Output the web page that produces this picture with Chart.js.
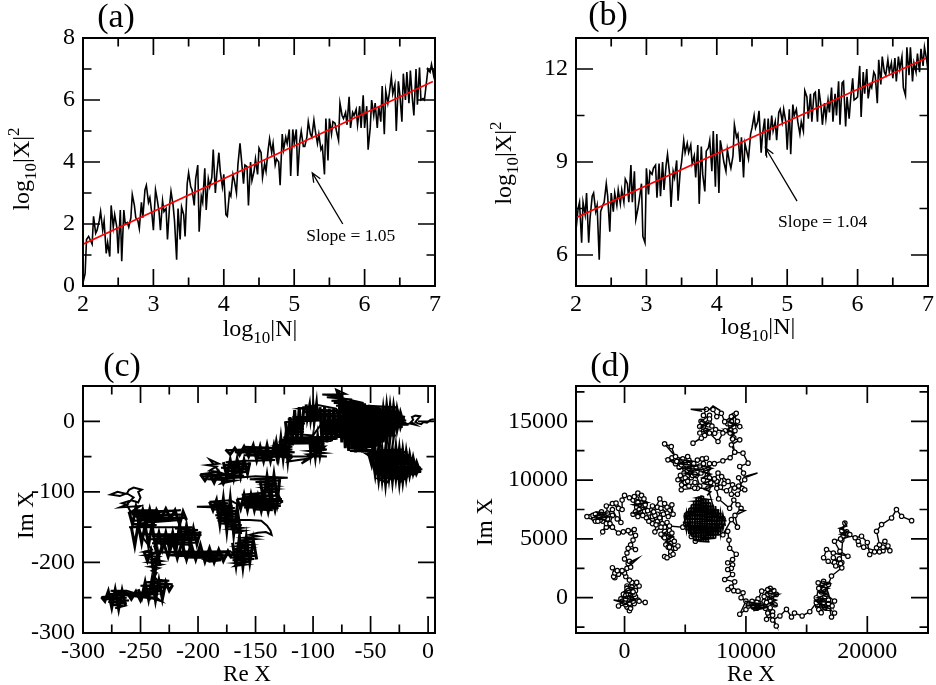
<!DOCTYPE html>
<html><head><meta charset="utf-8">
<style>html,body{margin:0;padding:0;background:#fff}canvas{position:absolute}</style>
<script src="https://cdn.jsdelivr.net/npm/chart.js@4"></script>
</head><body>
<canvas id="pa" width="468" height="345" style="left:0;top:0"></canvas>
<canvas id="pb" width="468" height="345" style="left:468px;top:0"></canvas>
<canvas id="pc" width="468" height="340" style="left:0;top:345px"></canvas>
<canvas id="pd" width="468" height="340" style="left:468px;top:345px"></canvas>
<script>
// ---- panels (a) and (b): shared log10 N samples
const logN=[2.00,2.03,2.05,2.08,2.10,2.13,2.15,2.18,2.20,2.23,2.25,2.28,2.30,2.33,2.35,2.38,2.40,2.43,2.45,2.48,
2.50,2.53,2.55,2.58,2.60,2.63,2.65,2.68,2.70,2.73,2.75,2.78,2.80,2.83,2.85,2.88,2.90,2.93,2.95,2.98,
3.00,3.03,3.05,3.08,3.10,3.13,3.15,3.18,3.20,3.23,3.25,3.28,3.30,3.33,3.35,3.38,3.40,3.43,3.45,3.48,
3.50,3.53,3.55,3.58,3.60,3.63,3.65,3.68,3.70,3.73,3.75,3.78,3.80,3.83,3.85,3.88,3.90,3.93,3.95,3.98,
4.00,4.03,4.05,4.08,4.10,4.13,4.15,4.18,4.20,4.23,4.25,4.28,4.30,4.33,4.35,4.38,4.40,4.43,4.45,4.48,
4.50,4.53,4.55,4.58,4.60,4.63,4.65,4.68,4.70,4.73,4.75,4.78,4.80,4.83,4.85,4.88,4.90,4.93,4.95,4.98,
5.00,5.03,5.05,5.08,5.10,5.13,5.15,5.18,5.20,5.23,5.25,5.28,5.30,5.33,5.35,5.38,5.40,5.43,5.45,5.48,
5.50,5.53,5.55,5.58,5.60,5.63,5.65,5.68,5.70,5.73,5.75,5.78,5.80,5.83,5.85,5.88,5.90,5.93,5.95,5.98,
6.00,6.03,6.05,6.08,6.10,6.13,6.15,6.18,6.20,6.23,6.25,6.28,6.30,6.33,6.35,6.38,6.40,6.43,6.45,6.48,
6.50,6.53,6.55,6.58,6.60,6.63,6.65,6.68,6.70,6.73,6.75,6.78,6.80,6.83,6.85,6.88,6.90,6.93,6.95,6.98,7.00];
const aY=[0.1,0.4,1.5,1.6,1.5,1.35,2.25,1.7,1.8,2.1,
2.4,1.8,2.1,1.05,1.4,0.95,2.6,1.9,2.3,1.9,
1.05,2.45,0.8,2.45,2.0,2.05,1.9,2.2,2.95,2.6,
2.2,2.1,1.85,2.7,2.2,3.1,3.25,2.7,2.85,2.3,
1.8,3.1,2.85,2.4,1.8,2.75,2.4,2.5,1.5,2.6,
3.05,2.6,2.1,0.85,2.5,1.5,2.55,2.3,1.6,3.3,
3.65,3.2,3.1,2.6,3.45,3.9,1.75,2.9,2.7,3.8,
2.45,3.45,3.2,3.5,4.4,3.0,3.6,4.3,3.7,3.2,
3.6,2.3,2.25,3.0,2.9,3.6,3.4,3.0,3.9,4.6,
4.1,3.3,3.9,3.85,2.6,4.0,3.4,3.7,4.1,3.6,
4.45,4.3,3.5,3.95,3.7,4.4,4.75,4.3,4.6,3.9,
4.1,4.0,3.25,4.9,4.4,4.8,4.6,5.05,3.55,5.05,
4.6,5.05,3.55,4.7,5.0,4.5,4.5,4.8,5.3,4.9,
4.8,5.35,5.0,4.6,4.9,4.4,4.5,3.6,5.4,4.05,
5.4,4.9,5.3,5.25,5.0,4.7,5.9,5.5,5.4,5.6,
5.2,6.1,5.1,5.6,5.5,5.7,5.2,5.8,5.1,6.15,
5.1,5.8,4.4,5.1,6.0,5.5,5.9,5.1,5.8,5.3,
6.45,4.9,6.3,5.9,6.2,6.75,6.2,6.5,5.0,6.6,
6.2,5.3,6.85,6.0,6.9,5.9,6.95,6.0,5.5,7.0,
5.85,7.05,6.0,6.05,6.0,6.6,7.0,6.9,7.15,6.8,7.1];
const bY=[6.8,7.5,7.7,6.4,7.7,7.3,8.0,6.4,7.2,7.9,
8.0,7.4,7.6,5.85,7.4,7.6,7.7,8.3,7.9,6.75,
8.0,7.4,8.0,7.6,8.1,7.65,8.1,7.7,8.45,8.3,
7.7,8.9,7.7,8.7,7.15,7.5,7.8,8.3,6.6,6.4,
8.8,7.95,8.7,8.6,8.8,8.9,7.85,8.95,7.9,9.0,
8.1,8.9,9.25,8.6,7.55,8.7,8.5,9.05,7.75,8.7,
9.0,9.7,9.3,9.6,9.3,9.55,8.95,9.2,8.5,9.55,
7.65,9.5,8.6,8.05,9.35,9.45,9.7,8.7,10.0,8.2,
9.9,8.0,9.7,9.3,9.0,8.7,9.4,9.0,8.8,9.2,
10.2,9.8,9.9,9.0,9.8,8.5,9.6,9.3,9.1,9.9,
10.1,10.5,10.1,10.3,10.65,9.3,9.9,10.4,9.2,10.4,
9.7,10.5,10.0,10.3,9.7,10.6,10.7,10.3,10.7,10.3,
9.4,10.7,9.25,10.85,10.5,10.7,10.3,9.9,10.3,10.0,
11.3,11.1,10.4,11.2,10.3,11.2,11.25,10.3,11.35,10.8,
10.2,10.9,10.4,11.0,10.6,11.4,10.3,11.2,10.5,11.6,
10.2,11.55,11.6,10.15,11.1,10.4,11.0,11.7,11.0,11.05,
11.1,12.1,10.45,11.9,11.2,12.0,11.05,11.5,11.4,11.9,
11.8,10.9,12.3,11.5,12.4,11.9,11.8,12.3,11.9,12.2,
11.7,12.35,11.6,12.4,12.0,12.4,11.4,11.15,12.7,11.8,
12.7,11.6,12.2,11.9,12.5,11.9,12.65,12.1,12.7,12.3,11.95];
const fitX=[2,6.97];
const aFit=[1.35,6.6];
const bFit=[7.2,12.35];
const aArrowX=[5.69,5.257], aArrowY=[2.0,3.65];
const bArrowX=[5.14,4.69], bArrowY=[7.74,9.46];

// ---- panel (c): walk, flat Re,Im pairs, leg by leg
const cTail=[5,3,2,2,-1,-2,-4,-1,-6,-4,-9,-3,-11,-1,-9,3,-7,7,-11,8,-14,6,-13,2,-16,-3,-11,-5,-14,-2,-18,-4,-21,-1];
const cMain=[-28,20,-52,22,-30,19,-70,24,-56,26,-84,29,-66,31,-88,34,-76,36,-92,38,-72,39,-80,45,-78,34,-62,28,-82,26,-54,24,-80,22,-42,19,-78,19,-34,17,-76,16,-27,14,-80,14,-26,12,-74,11,-24,9,-78,8,-22,6,-76,5,-20,3,-80,3,-19,1,-82,0,-21,-2,-76,-3,-17,-5,-78,-6,-22,-8,-80,-9,-26,-11,-76,-12,-30,-14,-82,-15,-34,-17,-74,-18,-28,-20,-72,-21,-36,-23,-74,-24,-38,-26,-71,-27,-40,-29,-70,-31,-44,-33,-73,-34,-46,-36,-70,-38,-48,-41,-68,-42,-45,-43];
const cLow=[-21,-40,-42,-41,-18,-44,-53,-46,-16,-48,-50,-50,-14,-52,-48,-54,-13,-56,-49,-58,-10,-60,-46,-62,-8,-64,-47,-66,-5,-68,-44,-70,-6,-72,-46,-74,-10,-75,-42,-77,-18,-79,-44,-81,-36,-87,-32,-80,-25,-82,-19,-80,-24,-86,-28,-78,-50,-50,-70,-30];
const cMid=[-76,8,-78,14,-80,18,-96,23,-112,18,-80,15,-108,13,-76,11,-104,9,-75,7,-118,6,-90,4,-122,3,-94,1,-124,-1,-107,-3,-122,-5,-108,-7,-123,-9,-108,-11,-122,-13,-108,-15,-124,-17,-100,-20,-92,-2,-75,-4,-93,-6,-72,-8,-92,-10,-76,-12,-94,-14,-74,-16,-92,-18,-72,-20,-74,-22,-126,-23,-80,-25,-128,-26,-84,-28,-130,-29,-90,-31,-124,-32,-131,-34,-118,-36,-133,-38,-118,-40,-130,-42,-116,-44,-135,-46,-118,-48,-130,-50,-119,-52,-122,-57,-105,-53,-110,-60,-100,-50,-105,-47,-90,-45,-104,-42,-88,-40,-103,-38,-90,-36,-100,-48,-88,-50];
const cBand=[-122,-50,-160,-36,-130,-38,-176,-41,-128,-42,-168,-44,-126,-46,-160,-48,-130,-50,-150,-52,-133,-55,-150,-56];
const cBall=[-158,-56,-176,-58,-154,-60,-178,-62,-155,-64,-180,-66,-156,-68,-176,-70,-158,-72,-178,-75,-160,-77,-170,-79,-182,-72,-190,-70,-184,-64,-192,-62,-182,-60,-190,-54,-184,-66,-182,-72,-198,-75,-176,-76,-196,-78,-172,-80,-192,-82,-168,-84,-180,-88,-175,-81,-150,-78];
const cKnot=[-122,-80,-155,-82,-128,-84,-150,-86,-131,-88,-142,-90,-132,-92,-143,-94,-132,-96,-145,-98,-130,-100,-148,-102,-162,-104,-130,-105,-160,-107,-133,-106,-166,-110,-127,-110,-160,-113,-126,-113,-163,-116,-128,-117,-158,-119,-128,-120,-160,-122,-130,-123,-150,-125,-135,-126];
const cFork=[-165,-118,-172,-112,-190,-114,-174,-116,-188,-118,-170,-120,-201,-121,-168,-123,-186,-125,-166,-127,-184,-129,-165,-131,-185,-133,-168,-135,-184,-137,-165,-139,-183,-141,-163,-143,-180,-145,-162,-147,-176,-149,-162,-151,-172,-153,-160,-155,-170,-158,-163,-158,-170,-140];
const cRing=[-155,-140,-145,-141,-140,-148,-137,-155,-136,-161,-141,-157,-148,-158,-155,-161,-148,-163,-160,-165,-150,-167,-165,-169,-152,-171,-168,-173,-155,-175,-166,-177,-156,-179,-170,-181,-158,-183,-170,-185,-150,-187,-172,-189,-150,-191,-172,-193,-151,-195,-170,-197,-155,-199,-168,-201,-158,-203,-168,-205,-162,-199];
const cBelt=[-172,-184,-210,-185,-175,-186,-214,-187,-178,-188,-216,-189,-172,-190,-218,-191,-175,-192,-212,-193,-178,-194,-192,-196,-180,-197,-190,-199,-200,-192,-226,-190,-208,-186,-238,-186,-205,-184];
const cLobe=[-208,-175,-240,-173,-202,-172,-238,-170,-200,-168,-243,-167,-200,-165,-240,-163,-197,-161,-250,-160,-222,-160,-198,-158,-218,-156,-200,-154,-220,-152,-205,-150,-236,-150,-260,-150,-236,-147,-258,-146,-240,-143,-215,-140,-258,-141,-237,-139,-250,-138,-210,-137,-256,-135,-212,-132,-258,-132,-215,-126,-260,-129,-236,-126,-256,-126,-250,-120,-268,-122,-262,-118];
const cCurl=[-266,-116,-258,-112,-252,-115,-250,-108,-252,-100,-249,-97,-256,-94,-260,-97,-262,-103,-270,-100,-276,-104,-268,-106,-262,-102,-256,-108,-262,-118,-258,-130,-250,-140,-252,-150,-248,-165,-240,-182];
const cNeck=[-247,-185,-235,-187,-246,-190,-234,-192,-240,-196,-232,-198,-243,-200,-232,-203,-242,-206,-234,-208,-240,-212,-236,-215,-238,-220,-236,-224];
const cFoot=[-240,-224,-225,-226,-246,-228,-222,-231,-250,-233,-226,-235,-248,-238,-230,-240,-252,-243,-238,-245,-252,-248,-236,-250,-232,-255,-248,-247,-240,-243,-262,-244,-245,-247,-264,-246,-240,-251];
const cEnd=[-262,-240,-276,-240,-262,-243,-280,-245,-262,-246,-284,-249,-262,-250,-282,-252,-260,-254,-278,-256,-262,-258,-276,-260,-265,-262,-272,-265,-268,-262];
// overlapping excursions of the walk that turn those clusters black
const cFillMain1=[-78,44,-75,-30,-72,30,-69,-42,-66,30,-63,-44,-60,27,-57,-44,-54,23,-51,-38,-48,18,-45,-36,-42,19,-39,-30,-36,21,-33,-22,-30,21,-27,-12,-24,12,-21,-5];
const cFillMain2=[-78,-15,-75,40,-72,-38,-69,28,-66,-40,-63,28,-60,-42,-57,24,-54,-40,-51,21,-48,-42,-45,17,-42,-32,-39,16,-36,-28,-33,20,-30,-20,-27,17,-24,-8,-21,8];
const cFillLow1=[-52,-44,-49,-62,-46,-40,-43,-82,-40,-40,-37,-88,-34,-39,-31,-84,-28,-38,-25,-86,-22,-42,-19,-80,-16,-48,-13,-74,-10,-58,-7,-72];
const cFillLow2=[-52,-50,-49,-42,-46,-75,-43,-38,-40,-82,-37,-40,-34,-80,-31,-40,-28,-80,-25,-40,-22,-84,-19,-44,-16,-76,-13,-52,-10,-74,-7,-64];
const cFillMidL=[-124,0,-122,-30,-120,6,-118,-34,-116,16,-114,-30,-112,20,-110,-25,-108,21];
const cFillMidT=[-106,24,-105,5,-103,22,-102,3,-100,22,-99,0,-97,24,-96,2];
const cFillMidR=[-94,20,-92,-35,-90,20,-88,-30,-86,18,-84,-28,-82,18,-80,-26,-78,16,-76,-22];
const cFillMidB=[-103,-22,-102,-45,-100,-24,-98,-50,-96,-22,-94,-48,-92,-30,-90,-42];
const cFillMidW=[-134,-48,-132,-30,-130,-50,-128,-24,-126,-52,-124,-24,-122,-55,-120,-24];
const cFillBand=[-176,-40,-172,-47,-168,-38,-164,-48,-160,-36,-156,-50,-152,-34,-149,-55,-146,-36,-143,-56,-140,-34,-137,-56,-134,-34,-131,-55,-128,-38,-125,-52];
const cFillBall=[-178,-58,-175,-78,-172,-55,-169,-80,-166,-54,-163,-78,-160,-55,-157,-74,-155,-58];
const cFillLeft=[-198,-75,-194,-84,-190,-74,-186,-87,-182,-72,-178,-88,-174,-74];
const cFillKnotA=[-146,-84,-143,-112,-140,-78,-137,-112,-134,-76,-131,-112,-129,-82];
const cFillKnotB=[-166,-110,-163,-124,-160,-104,-157,-126,-154,-104,-151,-126,-148,-106,-145,-127,-142,-106,-139,-128,-136,-106,-133,-126,-130,-106,-127,-116];
const cFillFork=[-190,-114,-187,-126,-184,-112,-181,-146,-178,-110,-175,-155,-172,-110,-169,-160,-166,-122,-163,-160];
const cFillRing=[-170,-172,-167,-204,-164,-164,-161,-206,-158,-165,-155,-200,-152,-168,-149,-196];
const cFillBelt=[-238,-176,-234,-190,-230,-172,-226,-192,-222,-170,-218,-194,-214,-172,-210,-196,-206,-174,-202,-196,-198,-175,-194,-199,-190,-180,-186,-200,-182,-182,-178,-198,-174,-184,-171,-194];
const cFillLobe=[-258,-150,-255,-176,-252,-146,-249,-172,-246,-147,-243,-176,-240,-146,-237,-178,-234,-158,-231,-180,-228,-158,-225,-180,-222,-158,-219,-182,-216,-146,-213,-178,-210,-148,-207,-176,-204,-152,-201,-174,-198,-156];
const cFillTop=[-260,-128,-257,-146,-254,-122,-251,-147,-248,-126,-245,-146,-242,-125,-239,-146,-236,-126,-232,-138,-228,-124,-224,-138,-220,-126,-216,-146,-213,-128,-210,-140];
const cFillFoot=[-252,-238,-249,-250,-246,-228,-243,-252,-240,-224,-237,-254,-234,-226,-231,-252,-228,-228,-225,-240,-222,-232];
const cFillBar=[-262,-242,-258,-252,-254,-241,-250,-254,-246,-240,-242,-254];
const cFillEnd=[-284,-249,-281,-255,-278,-241,-275,-264,-272,-239,-269,-266,-266,-240,-263,-262];
const cFillNeck=[-247,-184,-244,-198,-241,-184,-238,-222,-235,-186,-233,-205];

// ---- panel (d): walk legs carrying open circles, flat Re,Im pairs
const dOrigin=[1700,-400,1200,-300,900,100,600,-200,400,-1100,100,-600,-500,-700,-200,-300,100,200,500,700,300,-100,800,-500,500,-900,0,-400,300,300,700,1100,1200,1000,900,600,600,1300,200,800,500,300,100,-100,800,300,400,-500,700,-300,300,600,600,900,1000,1300,700,500,400,1500];
const dClimb=[100,1800,0,2100,-500,2000,-800,1700,-900,1800,-800,2100,-1000,2550,-600,2300,-200,2300,200,2500,500,2600,300,2900,400,3100,0,3300,200,3800,300,4200,900,4100,500,4500,700,4900,900,5300,500,5500,800,5800,300,5700,-100,5600,-500,5500];
const dWest=[-1000,6000,-1500,6000,-1800,5600,-1500,6300,-2000,6600,-2400,6500,-3100,6900,-2600,7000,-2200,6500,-2400,7100,-1900,7300,-1700,6800,-1200,6300,-1000,7000,-1400,7200,-1500,7800,-700,8050,-200,7500,-200,8300,0,8700,400,8500,800,8600,1100,8900,1400,8700,1600,8400,1100,8100,1700,7900,1200,7500,900,7300,1500,7000,1900,7400,2300,7800,2300,6900,2000,6500,2500,7000,2400,7300,2900,8400,3300,8000,3000,7600,3500,7200,3900,7900,4000,7100,3600,6900,3200,7100,2900,6800];
const dBowl=[2600,6200,2500,5600,3000,6000,3500,6400,3000,5400,3700,5700,3300,5100,3900,5000,3600,4300,4400,4400,3800,3900,3500,3400,4000,3700,3700,4300,4100,4800,3900,5500,3700,6100,4800,6000,5100,7050,5500,5200,5830,4800,6740,5150,7700,6350,6875,9320];
const dUpper=[6000,9300,5775,9320,4675,9180,5000,9800,4400,10030,5200,9900,5600,10400,4900,10600,4675,11300,5300,11000,5800,10500,3575,11720,4300,11600,3850,12850,3300,13080,4200,12000,4800,11800,5200,12000,5700,11400,6000,11700,6400,11800,6740,11860,6200,11200,6700,10800,7000,10200,6500,10000,7000,11400,7400,11400,8100,11640,8700,11900,9075,12370];
const dNorth=[8800,13000,9490,13420,8900,13500,9100,14200,8700,14800,9490,14550,8800,15000,9200,15680,8800,15400,8250,14970,7975,15680,7600,15400,7290,16000,6740,16020,6500,15500,7000,15200,6190,14550,6700,14200,6400,14900,6900,14000,7425,13980,6600,13800,5640,13140,6325,13560,7000,14000,7700,13280,8100,14000,8700,14300,9075,12370];
const dReturn=[9760,12290,10175,11440,9490,11160,9800,10600,9900,10030,9400,9500,9900,9180,9075,9320,8525,9890,7700,10600,7400,10100,7750,8400,8660,7600,9000,8300,9350,7900,9600,7600,9100,7000,9300,6000,8800,6640,8100,5350];
const dEast=[8500,5650,8600,4900,8660,4200,9200,3700,8900,3250,8500,2970,8900,2800,8800,2500,8500,2400,8900,1980,8250,1550,9075,1350,8800,900,8525,700,9000,600,9350,560,9760,420,9600,0,10000,-280,9490,-1400,10000,-1000,10500,-500,10200,-700,10900,-900,10500,-300,11000,-100,11300,-700,10900,-400,11300,560,11800,700,11500,100,12000,400,12500,280,12000,-300,12400,-600,11700,-400,12000,-850,11800,-1300,11700,-1840,12200,-1500,12500,-2400,12200,-1900,12800,-1550,13340,-990,13750,-1640,14000,-1300,14630,-1550,15260,-1190,15800,-420,16000,-1000,16200,-1270,16500,-800,16100,-300,16500,100,16800,-500,17050,-1640,17300,-1300,16800,-900,17300,-280,16600,300,16400,700,15950,1270,16400,1400,16800,1130,17050,1840,17900,2540,17400,2700,16775,3100,16400,3400,16640,4100,17200,3800,18400,3530,17740,3950,17300,4800,17800,5000,18150,6350,17900,5700,18560,5370,19250,4800,19000,5100,19525,5230,20000,4700,20200,3670,20760,4240,21300,4300,21860,4000,21450,4800,21000,4500,20760,5650,21175,6215,22000,6780,22400,7490,22825,6920,23650,6550];
// further circled excursions inside the crowded clusters
const dExtraWest=[-2800,6900,-2500,6700,-2100,7000,-1800,6500,-1400,6700,-1100,6100,-1600,6900,-1000,7500,-600,6700,-300,6400,-500,7600,-1000,8000];
const dExtraRidge=[700,8300,1000,7700,700,7100,1100,6900,1500,7700,1000,8400,1300,7300,1700,8000,2000,7200,1800,6800,2300,6700,2700,7100,2700,6500,2300,6300,3100,6300,3100,7300,2700,7700,3500,7700,3700,7400];
const dExtraBowl=[3300,6000,3700,5400,3200,5200,3700,4900,3400,4500,3800,4600,4200,4200,3800,3600,3300,3500];
const dExtraUpper=[3900,11900,4200,11400,4700,11700,4500,11100,5000,11500,5300,11700,5600,11000,5100,10700,5500,10200,5000,10200,4600,10400,4700,9600,5300,9500,5800,9800,6200,9500,5900,10400,6300,10600,5900,11100,6500,11400,6900,11000,7100,9800,7600,9900,7900,9400,8200,9700,8000,10300,7600,9300,8400,9100,8900,9600,8800,8800,9300,8800,9700,9300,9400,10200];
const dExtraTop=[6200,14000,6500,14500,6900,14700,6300,15000,7000,15500,7200,14600,7500,14300,8800,14000,8500,14800,9000,14500,9300,15000,9000,15500,8700,14000,8300,14200,9000,13600];
const dExtraBottom=[10200,-500,10600,-800,11000,-400,11500,-300,11900,-600,12100,-200,11800,300,12300,600,12000,800,11600,-900,11900,-1500,12200,-1200];
const dExtraPillar=[16200,500,16500,700,16300,1100,16000,800,15800,0,16400,-400,16600,-900,16200,-800,15900,-700,16800,-200,17100,-700,16600,1000];
const dExtraRise=[17300,3000,17700,3300,17900,3000,17200,3400,17800,2900,18000,5200,18300,5600,17900,4900];
const dExtraPlate=[20600,3900,21300,4000,21700,4400,21000,3900,19700,4300,19300,4500];
const dExtraOrigin=[200,-800,-300,-100,200,1000,500,1000,900,900,100,400,-100,300,800,-100,1100,-200];
// dense stretches of the walk in (d), where the circles merge into black
const dCore=[6500,8650,5900,8500,6900,8350,5700,8200,7100,8050,5500,7900,7400,7750,5300,7600,7800,7450,5100,7300,8000,7150,5000,7000,8300,6850,4900,6700,8400,6550,4800,6400,8300,6250,4850,6100,8200,5950,5000,5800,8000,5650,5300,5500,7900,5350,5500,5200,7500,5050,5700,4900,7000,4750,6000,4800];
const dCoreA=[4900,6300,5100,7300,5300,5400,5500,7900,5700,4900,5900,8500,6100,4800,6300,8700,6500,4750,6700,8400,6900,4800,7100,8100,7300,5000,7500,7800,7700,5300,7900,7300,8100,5800,8300,6800];
const dCoreB=[4900,7000,5100,5700,5300,7600,5500,5200,5700,8200,5900,4800,6100,8600,6300,4800,6500,8650,6700,4800,6900,8350,7100,5000,7300,7900,7500,5050,7700,7500,7900,5400,8100,7100,8300,6100];
const dDark1=[6300,11200,7200,11000,6400,10700,7100,10500,6400,10200,7200,10000,6500,9700,7300,9500,6600,9200,7100,9000,6800,8700];
const dDark2=[16300,1400,16900,1200,16100,1000,16800,800,16000,500,16700,300,15900,0,16500,-100,16000,-300,16300,-800];
const dDark3=[9900,-300,11000,-500,10000,-700,11600,-600,10400,-900,11800,-800,10600,-1100];
const dDark4=[11800,800,12200,700,11700,400,12700,300,11900,0,12500,-200,11900,-500,12600,-700];
const dDark5=[18100,6500,18300,6100,17700,5900,18400,5600,17800,5400,18500,5200,17900,5000];
const dDark6=[9200,15500,8600,15000,9100,14700,8500,14300,9000,14000,8700,13500];
const dDark7=[6300,15000,6900,14800,6300,14500,7000,14300,6400,14100];
const dDark8=[-2400,7300,-1500,7200,-2300,7000,-1300,6900,-2200,6700,-1500,6600];
const dDark9=[100,1000,800,800,0,500,700,300,-100,0,800,-200,100,-500,600,-800];
const dDark10=[4200,11800,5600,11600,4400,11400,6000,11200,4800,11000,6300,10900,5000,10600,6200,10400];
const dDark11=[900,8400,1900,8100,700,7900,1800,7600,800,7200,1600,7200];
const dDark12=[3200,5500,4000,5200,3400,4800,3900,4500];
const dDark13=[15700,-700,16800,-900,15800,-300,17000,-400];
const dSpike1=[6740,16020,5450,16020,6400,15850];
const dSpike2=[7000,16000,7290,16300,7900,15900];
const dSpike3=[9900,10300,10950,10600,10000,10250];
const dSpike4=[400,3000,1100,3350,500,2800];
const dSpike5=[0,-300,-900,-200,100,-500];
const dSpike6=[9300,7100,9900,7400,9400,7500];

// ---- ticks
const xMajAB=[2,3,4,5,6,7], xMinAB=[2.5,3.5,4.5,5.5,6.5];
const aYMaj=[0,2,4,6,8], aYMin=[1,3,5,7];
const bYMaj=[6,9,12], bYMin=[7.5,10.5];
const cXMaj=[-300,-250,-200,-150,-100,-50,0], cXMin=[-275,-225,-175,-125,-75,-25];
const cYMaj=[-300,-200,-100,0], cYMin=[-250,-150,-50];
const dXMaj=[0,10000,20000], dXMin=[5000,15000];
const dYMaj=[0,5000,10000,15000], dYMin=[-2500,2500,7500,12500,17500];

const SERIF='"Liberation Serif","Times New Roman",serif';
const pts=f=>{const o=[];for(let i=0;i<f.length;i+=2)o.push({x:f[i],y:f[i+1]});return o;};
const zip=(x,y)=>x.map((v,i)=>({x:v,y:y[i]}));

function runs(ctx,parts,x,y,rot){ // mixed-size centred text: [text,size,dy]
  ctx.save();ctx.translate(x,y);ctx.rotate(rot);ctx.textBaseline='alphabetic';ctx.textAlign='left';ctx.fillStyle='#000';
  let w=0;for(const p of parts){ctx.font=p[1]+'px '+SERIF;w+=ctx.measureText(p[0]).width;}
  let cx=-w/2;for(const p of parts){ctx.font=p[1]+'px '+SERIF;ctx.fillText(p[0],cx,p[2]);cx+=ctx.measureText(p[0]).width;}
  ctx.restore();
}
function panel(id,c){
  const dressing={id:'dressing',afterDatasetsDraw(ch){
    const {ctx,chartArea:a,scales:{x,y}}=ch;
    ctx.save();ctx.strokeStyle='#000';ctx.lineWidth=1.7;ctx.beginPath();
    const tick=(v,maj,s)=>{const L=maj?17:8.5;
      if(s==='x'){const p=x.getPixelForValue(v);ctx.moveTo(p,a.bottom);ctx.lineTo(p,a.bottom-L);ctx.moveTo(p,a.top);ctx.lineTo(p,a.top+L);}
      else{const p=y.getPixelForValue(v);ctx.moveTo(a.left,p);ctx.lineTo(a.left+L,p);ctx.moveTo(a.right,p);ctx.lineTo(a.right-L,p);}};
    c.xMaj.forEach(v=>tick(v,true,'x'));c.xMin.forEach(v=>tick(v,false,'x'));
    c.yMaj.forEach(v=>tick(v,true,'y'));c.yMin.forEach(v=>tick(v,false,'y'));
    ctx.stroke();ctx.lineWidth=2;ctx.strokeRect(a.left,a.top,a.right-a.left,a.bottom-a.top);
    if(c.arrow){const ax=c.arrow.x.map(v=>x.getPixelForValue(v)),ay=c.arrow.y.map(v=>y.getPixelForValue(v));
      ctx.lineWidth=1.3;ctx.beginPath();ctx.moveTo(ax[0],ay[0]);ctx.lineTo(ax[1],ay[1]);
      const t=Math.atan2(ay[1]-ay[0],ax[1]-ax[0]),H=10;
      ctx.moveTo(ax[1]+H*Math.cos(t+2.75),ay[1]+H*Math.sin(t+2.75));ctx.lineTo(ax[1],ay[1]);ctx.lineTo(ax[1]+H*Math.cos(t-2.75),ay[1]+H*Math.sin(t-2.75));ctx.stroke();
      ctx.fillStyle='#000';ctx.font='17.5px '+SERIF;ctx.textBaseline='middle';ctx.textAlign='left';
      ctx.fillText(c.arrow.text,x.getPixelForValue(c.arrow.tx),y.getPixelForValue(c.arrow.ty));}
    ctx.restore();
    runs(ctx,c.xTitle,c.xTitleAt[0],c.xTitleAt[1],0);
    runs(ctx,c.yTitle,c.yTitleAt[0],c.yTitleAt[1],-Math.PI/2);
    runs(ctx,[[c.letter,34,0]],c.letterAt[0],c.letterAt[1],0);
  }};
  const axis=(min,max,maj,mn,fit,pad)=>({type:'linear',min,max,grid:{display:false,drawTicks:false},border:{display:false},
    ticks:{color:'#000',padding:pad,autoSkip:false,maxRotation:0,minRotation:0,font:{family:SERIF,size:24},
      callback:v=>maj.includes(v)?String(v):''},
    afterBuildTicks:s=>{s.ticks=maj.concat(mn).sort((p,q)=>p-q).map(v=>({value:v}));},
    afterFit:fit});
  new Chart(document.getElementById(id),{type:'scatter',data:{datasets:c.datasets},plugins:[dressing],options:{
    responsive:false,animation:false,devicePixelRatio:1,
    layout:{padding:c.pad},
    plugins:{legend:{display:false},tooltip:{enabled:false},title:{display:false}},
    scales:{x:axis(c.xr[0],c.xr[1],c.xMaj,c.xMin,s=>{s.height=c.xh;s.paddingLeft=0;s.paddingRight=0;},4),
            y:axis(c.yr[0],c.yr[1],c.yMaj,c.yMin,s=>{s.width=c.yw;s.paddingTop=0;s.paddingBottom=0;},8)}}});
}
const black=(data,w)=>({data,showLine:true,borderColor:'#000',borderWidth:w,pointRadius:0,tension:0,fill:false});
const red=data=>({data,showLine:true,borderColor:'#ff0000',borderWidth:1.7,pointRadius:0,tension:0,fill:false});
const SUB=17,LOG=24;
const xLog=[['log',LOG,0],['10',SUB,7],['|N|',LOG,0]];
const yLog=[['log',LOG,0],['10',SUB,7],['|X|',LOG,0],['2',SUB,-10]];

panel('pa',{letter:'(a)',letterAt:[116,27],pad:{top:38,right:33,left:0,bottom:0},xh:59,yw:83,xr:[2,7],yr:[0,8],
  xMaj:xMajAB,xMin:xMinAB,yMaj:aYMaj,yMin:aYMin,xTitle:xLog,xTitleAt:[260,336],yTitle:yLog,yTitleAt:[29,169],
  arrow:{x:aArrowX,y:aArrowY,text:'Slope = 1.05',tx:5.17,ty:1.61},
  datasets:[red(zip(fitX,aFit)),black(zip(logN,aY),1.6)]});
panel('pb',{letter:'(b)',letterAt:[140,25],pad:{top:38,right:8,left:0,bottom:0},xh:59,yw:108,xr:[2,7],yr:[5,13],
  xMaj:xMajAB,xMin:xMinAB,yMaj:bYMaj,yMin:bYMin,xTitle:xLog,xTitleAt:[290,334],yTitle:yLog,yTitleAt:[43,163],
  arrow:{x:bArrowX,y:bArrowY,text:'Slope = 1.04',tx:4.87,ty:7.06},
  datasets:[red(zip(fitX,bFit)),black(zip(logN,bY),1.6)]});
const cWalk=[].concat(cTail,cMain,cLow,cMid,cBand,cBall,cKnot,cFork,cRing,cBelt,cLobe,cCurl,cNeck,cFoot,cEnd);
const cFills=[cFillMain1,cFillMain2,cFillLow1,cFillLow2,cFillMidL,cFillMidT,cFillMidR,cFillMidB,cFillMidW,cFillBand,cFillBall,cFillLeft,cFillKnotA,cFillKnotB,cFillFork,cFillRing,cFillBelt,cFillLobe,cFillTop,cFillFoot,cFillBar,cFillEnd,cFillNeck];
panel('pc',{letter:'(c)',letterAt:[122,31],pad:{top:41,right:33,left:0,bottom:0},xh:52,yw:83,xr:[-300,6],yr:[-300,50],
  xMaj:cXMaj,xMin:cXMin,yMaj:cYMaj,yMin:cYMin,xTitle:[['Re X',23,0]],xTitleAt:[247,336],yTitle:[['Im X',23,0]],yTitleAt:[33,170],
  datasets:[black(pts(cWalk),2),...cFills.map(l=>black(pts(l),3))]});
const dLegs=[[].concat(dOrigin,dClimb,dWest,dBowl,dUpper,dNorth,dReturn,dEast),dExtraWest,dExtraRidge,dExtraBowl,dExtraUpper,dExtraTop,dExtraBottom,dExtraPillar,dExtraRise,dExtraPlate,dExtraOrigin];
const dDense=[dCore,dCoreA,dCoreB,dDark1,dDark2,dDark3,dDark4,dDark5,dDark6,dDark7,dDark8,dDark9,dDark10,dDark11,dDark12,dDark13,dSpike1,dSpike2,dSpike3,dSpike4,dSpike5,dSpike6];
panel('pd',{letter:'(d)',letterAt:[142,31],pad:{top:41,right:8,left:0,bottom:0},xh:52,yw:108,xr:[-4000,25000],yr:[-3000,18000],
  xMaj:dXMaj,xMin:dXMin,yMaj:dYMaj,yMin:dYMin,xTitle:[['Re X',23,0]],xTitleAt:[283,336],yTitle:[['Im X',23,0]],yTitleAt:[24,177],
  datasets:[...dDense.map(l=>black(pts(l),1.6)),
    ...dLegs.map(l=>({data:pts(l),showLine:false,pointRadius:2.2,pointBorderWidth:1.2,pointBorderColor:'#000',pointBackgroundColor:'#fff'})),
    ...dLegs.map(l=>black(pts(l),1.4))]});
</script>
</body></html>
